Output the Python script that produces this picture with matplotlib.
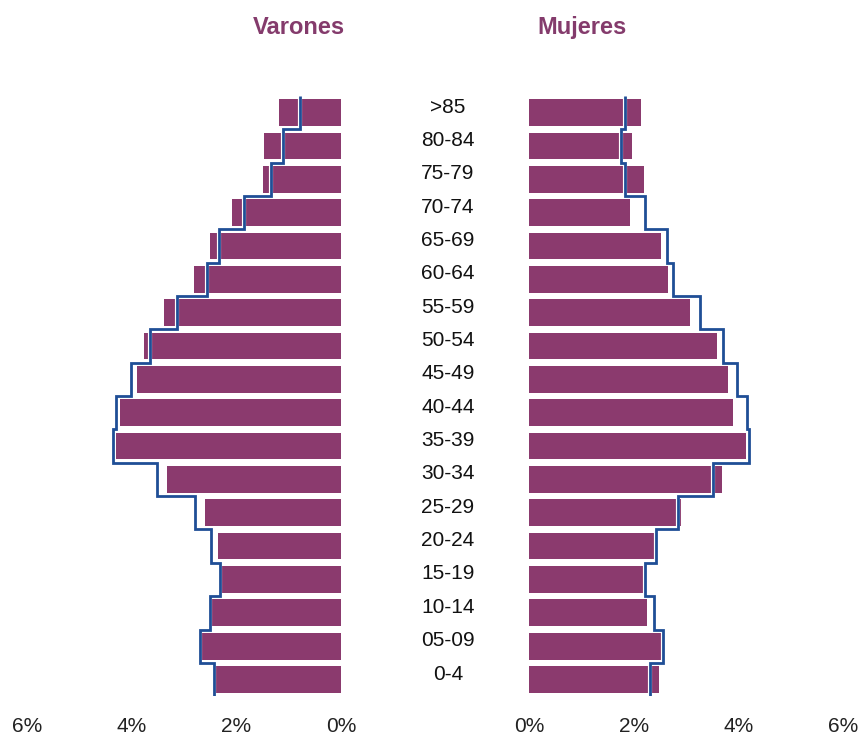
import matplotlib
matplotlib.use("Agg")
import matplotlib.pyplot as plt
import matplotlib.patheffects as pe
import matplotlib.transforms as mtransforms
import numpy as np

plt.rcParams['font.family'] = ['Liberation Sans', 'DejaVu Sans']

# age groups, bottom to top
ages = ["0-4", "05-09", "10-14", "15-19", "20-24", "25-29", "30-34", "35-39", "40-44",
        "45-49", "50-54", "55-59", "60-64", "65-69", "70-74", "75-79", "80-84", ">85"]

# percentages (bars) and comparison outline (step line)
varones = [2.41, 2.67, 2.48, 2.27, 2.35, 2.59, 3.32, 4.29, 4.23,
           3.90, 3.76, 3.39, 2.80, 2.51, 2.08, 1.50, 1.47, 1.19]
varones_ref = [2.43, 2.70, 2.51, 2.32, 2.48, 2.79, 3.52, 4.35, 4.29,
               4.02, 3.65, 3.13, 2.57, 2.34, 1.85, 1.33, 1.11, 0.79]
mujeres = [2.48, 2.52, 2.25, 2.21, 2.42, 2.91, 3.69, 4.14, 3.89,
           3.81, 3.60, 3.08, 2.66, 2.52, 1.93, 2.19, 1.97, 2.14]
mujeres_ref = [2.31, 2.56, 2.38, 2.21, 2.43, 2.84, 3.51, 4.21, 4.16,
               3.97, 3.70, 3.27, 2.75, 2.63, 2.22, 1.84, 1.76, 1.84]

ticks = [0, 2, 4, 6]
tick_labels = ["0%", "2%", "4%", "6%"]

bar_color = "#8B3A6E"
line_color = "#1F4E96"
title_color = "#843B6C"

W, H = 863, 740
fig = plt.figure(figsize=(W / 100, H / 100), dpi=100)

y = np.arange(len(ages))
edges = np.arange(len(ages) + 1) - 0.5
bottom = 1 - 696.2 / H
height = (696.2 - 95.9) / H

axL = fig.add_axes([27 / W, bottom, (341 - 27) / W, height])
axR = fig.add_axes([529 / W, bottom, (843 - 529) / W, height])

halo = [pe.Stroke(linewidth=3.0, foreground="white"), pe.Normal()]

for ax, vals, ref in [(axL, varones, varones_ref), (axR, mujeres, mujeres_ref)]:
    ax.barh(y, vals, height=0.8, color=bar_color, zorder=2)
    st = ax.stairs(ref, edges, orientation="horizontal", baseline=None,
                   color=line_color, linewidth=2.0, zorder=3)
    st.set_path_effects(halo)
    ax.set_ylim(-0.5, len(ages) - 0.5)
    ax.set_yticks([])
    ax.set_xticks(ticks)
    ax.set_xticklabels(tick_labels)
    ax.tick_params(axis="x", length=0, labelsize=15, pad=15, colors="#222222")
    for s in ax.spines.values():
        s.set_visible(False)

axL.set_xlim(6, 0)
axR.set_xlim(0, 6)

# age labels in the middle
trans = mtransforms.blended_transform_factory(fig.transFigure, axL.transData)
for i, a in enumerate(ages):
    fig.text(448 / W, i, a, transform=trans, ha="center", va="baseline",
             fontsize=15, color="#111111")

fig.text(298.5 / W, 1 - 34.3 / H, "Varones", ha="center", va="baseline",
         fontsize=17, fontweight="bold", color=title_color)
fig.text(582 / W, 1 - 34.3 / H, "Mujeres", ha="center", va="baseline",
         fontsize=17, fontweight="bold", color=title_color)

fig.savefig("out.png", dpi=100)
